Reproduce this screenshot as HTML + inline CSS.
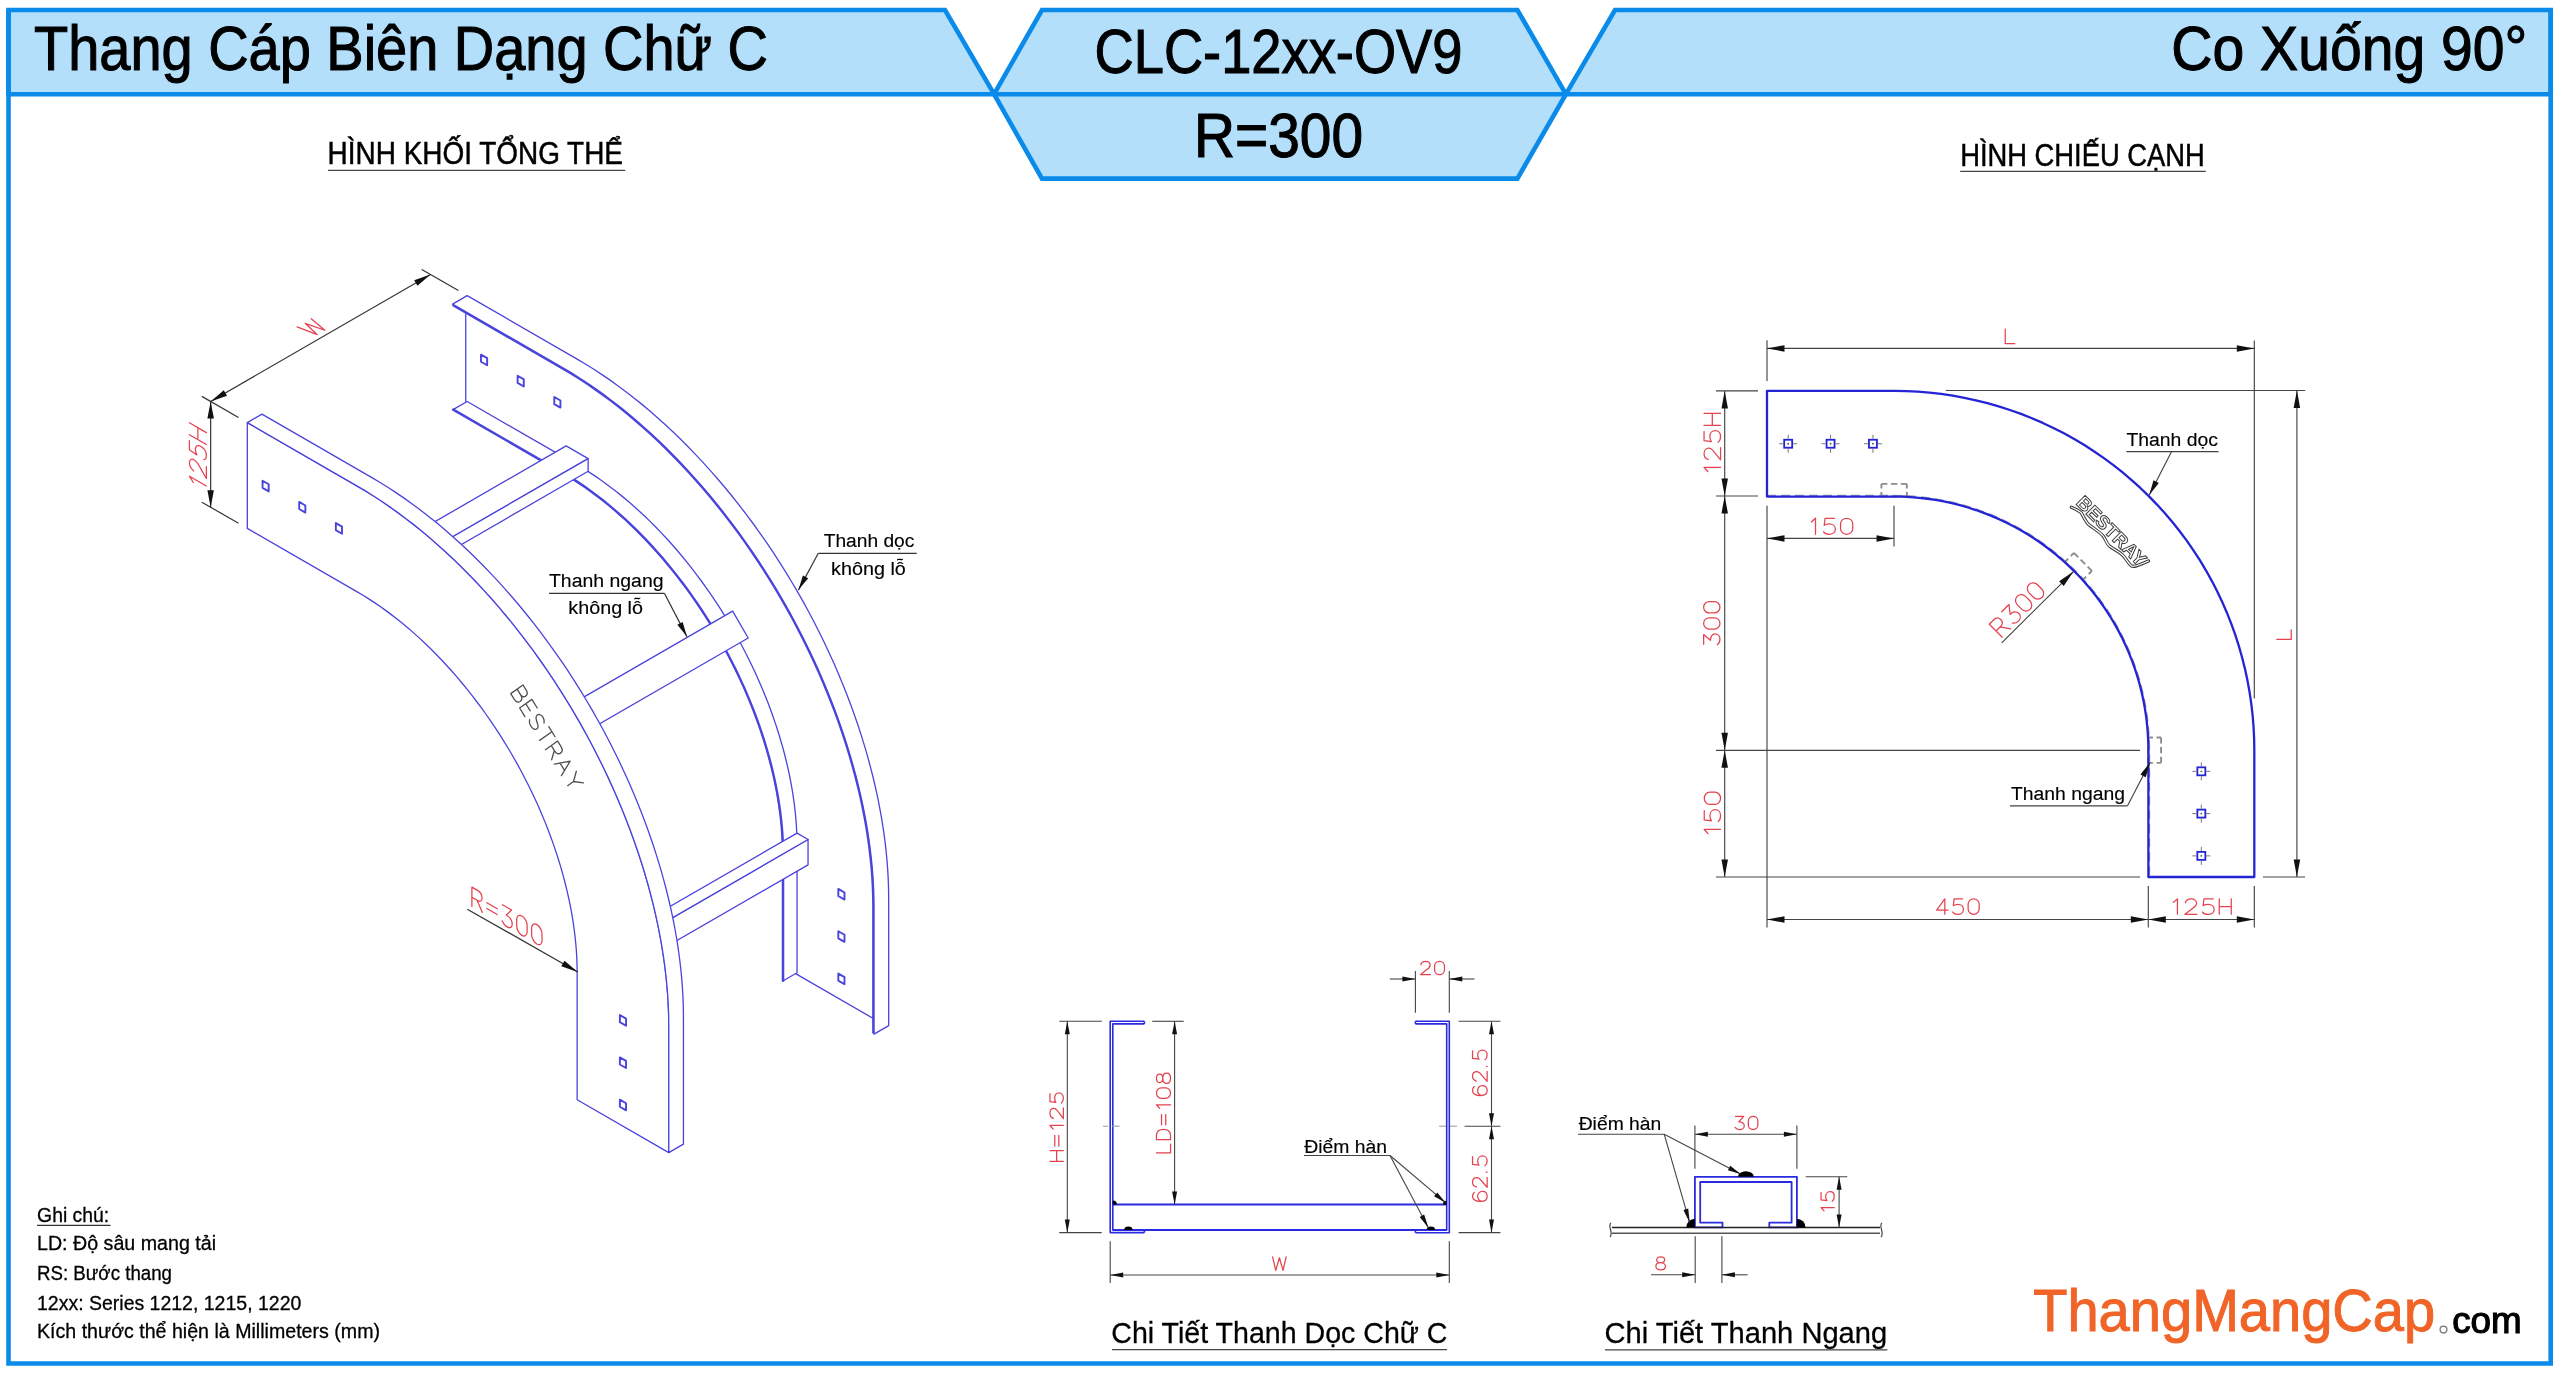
<!DOCTYPE html>
<html><head><meta charset="utf-8"><title>CLC-12xx-OV9</title>
<style>html,body{margin:0;padding:0;background:#fff;overflow:hidden}svg{display:block;will-change:transform}</style>
</head><body>
<svg width="2560" height="1373" viewBox="0 0 2560 1373">
<rect x="0" y="0" width="2560" height="1373" fill="#fff"/>
<polygon points="8.5,10 945,10 994.1,94.2 8.5,94.2" fill="#b3dffb" stroke="none" stroke-width="1.4" stroke-linejoin="round"/>
<polygon points="1042,10 1517.4,10 1565.9,94.2 1517.4,178.6 1042,178.6 994.1,94.2" fill="#b3dffb" stroke="none" stroke-width="1.4" stroke-linejoin="round"/>
<polygon points="1615,10 2550.7,10 2550.7,94.2 1565.9,94.2" fill="#b3dffb" stroke="none" stroke-width="1.4" stroke-linejoin="round"/>
<polyline points="8.5,10 8.5,1363.5 2550.7,1363.5 2550.7,10" stroke="#0a8ae9" stroke-width="4.6" fill="none" stroke-linejoin="miter" stroke-miterlimit="10"/>
<polygon points="8.5,10 945,10 994.1,94.2 8.5,94.2" stroke="#0a8ae9" stroke-width="4.6" fill="none" stroke-linejoin="miter" stroke-miterlimit="10"/>
<polygon points="1042,10 1517.4,10 1565.9,94.2 1517.4,178.6 1042,178.6 994.1,94.2" stroke="#0a8ae9" stroke-width="4.6" fill="none" stroke-linejoin="miter" stroke-miterlimit="10"/>
<polygon points="1615,10 2550.7,10 2550.7,94.2 1565.9,94.2" stroke="#0a8ae9" stroke-width="4.6" fill="none" stroke-linejoin="miter" stroke-miterlimit="10"/>
<line x1="994.1" y1="94.2" x2="1565.9" y2="94.2" stroke="#0a8ae9" stroke-width="4.6" fill="none" stroke-linejoin="miter" stroke-miterlimit="10"/>
<text x="34" y="70" font-size="62.5" font-family='"Liberation Sans", sans-serif' fill="#000" font-weight="normal" text-anchor="start" textLength="734" lengthAdjust="spacingAndGlyphs" stroke="#000" stroke-width="1.1">Thang Cáp Biên Dạng Chữ C</text>
<text x="1094.5" y="72.5" font-size="62.5" font-family='"Liberation Sans", sans-serif' fill="#000" font-weight="normal" text-anchor="start" textLength="368" lengthAdjust="spacingAndGlyphs" stroke="#000" stroke-width="1.1">CLC-12xx-OV9</text>
<text x="1194" y="157.4" font-size="62.5" font-family='"Liberation Sans", sans-serif' fill="#000" font-weight="normal" text-anchor="start" textLength="169" lengthAdjust="spacingAndGlyphs" stroke="#000" stroke-width="1.1">R=300</text>
<text x="2171.3" y="70.2" font-size="62.5" font-family='"Liberation Sans", sans-serif' fill="#000" font-weight="normal" text-anchor="start" textLength="356" lengthAdjust="spacingAndGlyphs" stroke="#000" stroke-width="1.1">Co Xuống 90°</text>
<text x="327.6" y="164.1" font-size="31.4" font-family='"Liberation Sans", sans-serif' fill="#000" font-weight="normal" text-anchor="start" textLength="295.4" lengthAdjust="spacingAndGlyphs" stroke="#000" stroke-width="0.5">HÌNH KHỐI TỔNG THỂ</text>
<line x1="328" y1="170.3" x2="625.2" y2="170.3" stroke="#444" stroke-width="1.3"/>
<text x="1960.2" y="165.7" font-size="31.4" font-family='"Liberation Sans", sans-serif' fill="#000" font-weight="normal" text-anchor="start" textLength="244.5" lengthAdjust="spacingAndGlyphs" stroke="#000" stroke-width="0.5">HÌNH CHIẾU CẠNH</text>
<line x1="1960.2" y1="171.4" x2="2205.8" y2="171.4" stroke="#444" stroke-width="1.3"/>
<text x="1111.3" y="1342.8" font-size="30.4" font-family='"Liberation Sans", sans-serif' fill="#000" font-weight="normal" text-anchor="start" textLength="336.2" lengthAdjust="spacingAndGlyphs" stroke="#000" stroke-width="0.3">Chi Tiết Thanh Dọc Chữ C</text>
<line x1="1112" y1="1349.6" x2="1447" y2="1349.6" stroke="#444" stroke-width="1.3"/>
<text x="1604.5" y="1342.7" font-size="30.4" font-family='"Liberation Sans", sans-serif' fill="#000" font-weight="normal" text-anchor="start" textLength="282.7" lengthAdjust="spacingAndGlyphs" stroke="#000" stroke-width="0.3">Chi Tiết Thanh Ngang</text>
<line x1="1605" y1="1349.8" x2="1887.4" y2="1349.8" stroke="#444" stroke-width="1.3"/>
<text x="37.1" y="1221.5" font-size="20.5" font-family='"Liberation Sans", sans-serif' fill="#000" font-weight="normal" text-anchor="start" textLength="72" lengthAdjust="spacingAndGlyphs" stroke="#000" stroke-width="0.3">Ghi chú:</text>
<line x1="37" y1="1225.3" x2="110.5" y2="1225.3" stroke="#333" stroke-width="1.3"/>
<text x="37" y="1250.1" font-size="20.5" font-family='"Liberation Sans", sans-serif' fill="#000" font-weight="normal" text-anchor="start" textLength="179" lengthAdjust="spacingAndGlyphs" stroke="#000" stroke-width="0.3">LD: Độ sâu mang tải</text>
<text x="37" y="1279.8" font-size="20.5" font-family='"Liberation Sans", sans-serif' fill="#000" font-weight="normal" text-anchor="start" textLength="135" lengthAdjust="spacingAndGlyphs" stroke="#000" stroke-width="0.3">RS: Bước thang</text>
<text x="37" y="1309.5" font-size="20.5" font-family='"Liberation Sans", sans-serif' fill="#000" font-weight="normal" text-anchor="start" textLength="264.3" lengthAdjust="spacingAndGlyphs" stroke="#000" stroke-width="0.3">12xx: Series 1212, 1215, 1220</text>
<text x="37" y="1338.4" font-size="20.5" font-family='"Liberation Sans", sans-serif' fill="#000" font-weight="normal" text-anchor="start" textLength="343" lengthAdjust="spacingAndGlyphs" stroke="#000" stroke-width="0.3">Kích thước thể hiện là Millimeters (mm)</text>
<text x="2033.2" y="1331" font-size="59" font-family='"Liberation Sans", sans-serif' fill="#f06428" font-weight="normal" text-anchor="start" textLength="402" lengthAdjust="spacingAndGlyphs" stroke="#f06428" stroke-width="1">ThangMangCap</text>
<circle cx="2443.5" cy="1329.6" r="3.4" fill="none" stroke="#777" stroke-width="1.3"/>
<text x="2452.2" y="1332.8" font-size="36" font-family='"Liberation Sans", sans-serif' fill="#000" font-weight="normal" text-anchor="start" textLength="69.5" lengthAdjust="spacingAndGlyphs" stroke="#000" stroke-width="1.15">com</text>
<polygon points="465.74,296.49 575.69,359.97 583.84,364.8 591.99,369.87 600.13,375.19 608.25,380.74 616.35,386.52 624.42,392.53 632.46,398.77 640.46,405.22 648.41,411.89 656.31,418.77 664.16,425.86 671.95,433.15 679.68,440.64 687.33,448.31 694.9,456.18 702.4,464.22 709.8,472.44 717.12,480.83 724.33,489.38 731.45,498.09 738.46,506.95 745.36,515.96 752.14,525.11 758.8,534.39 765.33,543.79 771.74,553.32 778.01,562.96 784.14,572.71 790.13,582.56 795.97,592.51 801.66,602.54 807.2,612.65 812.57,622.83 817.79,633.08 822.84,643.4 827.72,653.76 832.42,664.17 836.95,674.61 841.31,685.09 845.48,695.59 849.46,706.11 853.26,716.63 856.87,727.16 860.28,737.69 863.5,748.2 866.52,758.69 869.34,769.15 871.97,779.58 874.38,789.97 876.6,800.32 878.6,810.6 880.4,820.83 882,830.98 883.38,841.06 884.55,851.05 885.51,860.96 886.25,870.77 886.79,880.47 887.11,890.07 887.21,899.55 887.21,1026.51 795.59,973.61 795.59,846.65 795.51,839.96 795.29,833.18 794.91,826.33 794.38,819.41 793.71,812.42 792.88,805.36 791.9,798.25 790.78,791.08 789.51,783.86 788.09,776.6 786.53,769.3 784.82,761.97 782.97,754.6 780.98,747.22 778.85,739.81 776.58,732.39 774.17,724.96 771.62,717.53 768.94,710.1 766.13,702.68 763.18,695.26 760.11,687.87 756.91,680.5 753.59,673.15 750.15,665.83 746.58,658.56 742.9,651.32 739.1,644.13 735.2,636.99 731.18,629.91 727.06,622.89 722.83,615.94 718.5,609.06 714.07,602.25 709.55,595.53 704.94,588.89 700.24,582.34 695.45,575.88 690.58,569.52 685.64,563.27 680.61,557.12 675.52,551.08 670.36,545.16 665.13,539.36 659.84,533.68 654.49,528.13 649.09,522.71 643.64,517.43 638.14,512.28 632.6,507.28 627.02,502.42 621.41,497.71 615.76,493.15 610.09,488.75 604.39,484.51 598.67,480.43 592.94,476.51 587.19,472.76 581.44,469.18 575.69,465.77 465.74,402.29" fill="#fff" stroke="#4a44dc" stroke-width="1.3" stroke-linejoin="round"/>
<polygon points="467.2,295.64 577.15,359.12 585.31,363.95 593.46,369.03 601.59,374.34 609.72,379.89 617.81,385.67 625.89,391.69 633.92,397.92 641.92,404.38 649.88,411.05 657.78,417.93 665.63,425.02 673.42,432.31 681.14,439.79 688.79,447.47 696.37,455.33 703.86,463.38 711.27,471.59 718.58,479.98 725.8,488.53 732.92,497.24 739.92,506.1 746.82,515.11 753.6,524.26 760.26,533.54 766.8,542.95 773.2,552.47 779.47,562.12 785.6,571.87 791.59,581.72 797.43,591.66 803.13,601.69 808.66,611.8 814.04,621.99 819.25,632.24 824.3,642.55 829.18,652.91 833.89,663.32 838.42,673.77 842.77,684.24 846.94,694.74 850.93,705.26 854.72,715.79 858.33,726.32 861.75,736.84 864.96,747.35 867.99,757.84 870.81,768.31 873.43,778.74 875.85,789.13 878.06,799.47 880.07,809.76 881.87,819.98 883.46,830.13 884.84,840.21 886.01,850.21 886.97,860.11 887.72,869.92 888.25,879.63 888.57,889.22 888.68,898.7 888.68,1025.66 874.02,1034.12 874.02,907.16 873.91,897.69 873.59,888.09 873.06,878.39 872.31,868.58 871.35,858.67 870.18,848.68 868.8,838.6 867.21,828.44 865.41,818.22 863.4,807.93 861.19,797.59 858.77,787.2 856.15,776.77 853.33,766.31 850.3,755.81 847.09,745.3 843.67,734.78 840.06,724.25 836.27,713.72 832.28,703.21 828.11,692.71 823.76,682.23 819.23,671.78 814.52,661.38 809.64,651.01 804.59,640.7 799.38,630.45 794,620.27 788.47,610.15 782.77,600.12 776.93,590.18 770.94,580.33 764.81,570.58 758.54,560.94 752.14,551.41 745.6,542 738.94,532.72 732.16,523.58 725.26,514.57 718.26,505.71 711.14,497 703.92,488.45 696.61,480.06 689.2,471.84 681.71,463.8 674.13,455.93 666.48,448.26 658.76,440.77 650.97,433.48 643.12,426.39 635.22,419.51 627.26,412.84 619.26,406.38 611.23,400.15 603.15,394.14 595.06,388.36 586.93,382.8 578.8,377.49 570.65,372.42 562.49,367.58 452.54,304.1" fill="#fff" stroke="#4a44dc" stroke-width="1.3" stroke-linejoin="round"/>
<polyline points="452.54,305.12 562.49,368.6 570.62,373.42 578.75,378.48 586.86,383.78 594.96,389.31 603.04,395.08 611.09,401.07 619.1,407.29 627.08,413.73 635.01,420.38 642.89,427.24 650.72,434.31 658.49,441.58 666.19,449.04 673.82,456.7 681.37,464.54 688.84,472.56 696.23,480.76 703.52,489.12 710.72,497.65 717.82,506.33 724.8,515.17 731.68,524.15 738.44,533.27 745.09,542.53 751.6,551.91 757.99,561.41 764.24,571.02 770.36,580.74 776.33,590.57 782.15,600.48 787.83,610.49 793.35,620.57 798.71,630.72 803.91,640.95 808.94,651.23 813.81,661.56 818.5,671.94 823.02,682.36 827.36,692.8 831.52,703.28 835.49,713.76 839.28,724.26 842.88,734.76 846.28,745.25 849.49,755.73 852.51,766.2 855.32,776.63 857.93,787.03 860.35,797.39 862.55,807.71 864.56,817.96 866.35,828.16 867.94,838.28 869.31,848.33 870.48,858.3 871.44,868.18 872.18,877.96 872.71,887.64 873.03,897.2 873.14,906.66 873.14,1033.62" fill="none" stroke="#4a44dc" stroke-width="2" stroke-linejoin="round"/>
<polygon points="467.2,401.44 577.15,464.92 582.91,468.33 588.66,471.91 594.41,475.66 600.14,479.58 605.85,483.66 611.55,487.91 617.23,492.31 622.87,496.87 628.49,501.57 634.07,506.43 639.61,511.44 645.1,516.58 650.56,521.86 655.96,527.28 661.3,532.83 666.59,538.51 671.82,544.31 676.98,550.23 682.08,556.27 687.1,562.42 692.05,568.67 696.92,575.03 701.71,581.49 706.41,588.04 711.02,594.68 715.54,601.41 719.97,608.21 724.29,615.09 728.52,622.05 732.65,629.07 736.66,636.15 740.57,643.28 744.37,650.47 748.05,657.71 751.61,664.99 755.06,672.3 758.38,679.65 761.58,687.02 764.65,694.42 767.59,701.83 770.4,709.25 773.09,716.68 775.63,724.12 778.04,731.55 780.31,738.96 782.45,746.37 784.44,753.76 786.29,761.12 788,768.45 789.56,775.75 790.98,783.02 792.25,790.23 793.37,797.4 794.35,804.52 795.17,811.57 795.85,818.56 796.38,825.49 796.75,832.34 796.98,839.11 797.05,845.8 797.05,972.76 782.39,981.22 782.39,854.26 782.32,847.57 782.09,840.8 781.71,833.95 781.19,827.03 780.51,820.03 779.69,812.98 778.71,805.86 777.59,798.7 776.32,791.48 774.9,784.22 773.34,776.92 771.63,769.58 769.78,762.22 767.79,754.83 765.65,747.43 763.38,740.01 760.97,732.58 758.43,725.15 755.74,717.72 752.93,710.29 749.99,702.88 746.92,695.49 743.72,688.11 740.4,680.77 736.95,673.45 733.39,666.17 729.71,658.94 725.91,651.75 722,644.61 717.99,637.53 713.86,630.51 709.63,623.56 705.31,616.68 700.88,609.87 696.36,603.14 691.75,596.5 687.05,589.95 682.26,583.5 677.39,577.14 672.44,570.88 667.42,564.73 662.32,558.7 657.16,552.78 651.93,546.98 646.64,541.3 641.3,535.75 635.9,530.33 630.44,525.04 624.95,519.9 619.41,514.9 613.83,510.04 608.21,505.33 602.57,500.77 596.89,496.37 591.19,492.13 585.48,488.05 579.74,484.13 574,480.38 568.25,476.79 562.49,473.38 452.54,409.9" fill="#fff" stroke="#4a44dc" stroke-width="1.3" stroke-linejoin="round"/>
<polyline points="452.54,408.89 562.49,472.37 568.27,475.79 574.05,479.39 579.81,483.16 585.57,487.09 591.31,491.19 597.03,495.45 602.73,499.87 608.39,504.44 614.03,509.17 619.63,514.05 625.2,519.07 630.72,524.24 636.19,529.54 641.61,534.98 646.98,540.55 652.29,546.25 657.54,552.08 662.72,558.02 667.84,564.08 672.88,570.26 677.85,576.54 682.74,582.92 687.54,589.4 692.26,595.98 696.89,602.65 701.43,609.4 705.88,616.23 710.22,623.14 714.47,630.12 718.61,637.17 722.64,644.28 726.56,651.45 730.37,658.66 734.07,665.93 737.65,673.24 741.11,680.58 744.44,687.96 747.65,695.36 750.74,702.78 753.69,710.23 756.52,717.68 759.21,725.14 761.77,732.6 764.18,740.06 766.47,747.51 768.61,754.94 770.61,762.36 772.47,769.75 774.18,777.12 775.75,784.45 777.17,791.74 778.45,798.98 779.58,806.18 780.55,813.32 781.38,820.41 782.06,827.43 782.59,834.38 782.97,841.25 783.2,848.05 783.27,854.77 783.27,981.73" fill="none" stroke="#4a44dc" stroke-width="2" stroke-linejoin="round"/>
<polygon points="480.98,354.63 487.14,358.19 487.14,365.3 480.98,361.74" fill="none" stroke="#4a44dc" stroke-width="1.9" stroke-linejoin="round"/>
<polygon points="517.63,375.79 523.79,379.35 523.79,386.46 517.63,382.9" fill="none" stroke="#4a44dc" stroke-width="1.9" stroke-linejoin="round"/>
<polygon points="554.28,396.95 560.44,400.51 560.44,407.62 554.28,404.06" fill="none" stroke="#4a44dc" stroke-width="1.9" stroke-linejoin="round"/>
<polygon points="838.32,888.92 844.48,892.48 844.48,899.59 838.32,896.03" fill="none" stroke="#4a44dc" stroke-width="1.9" stroke-linejoin="round"/>
<polygon points="838.32,931.24 844.48,934.8 844.48,941.91 838.32,938.35" fill="none" stroke="#4a44dc" stroke-width="1.9" stroke-linejoin="round"/>
<polygon points="838.32,973.56 844.48,977.12 844.48,984.23 838.32,980.67" fill="none" stroke="#4a44dc" stroke-width="1.9" stroke-linejoin="round"/>
<polygon points="346.26,572.84 368.25,585.53 588.15,458.57 566.16,445.88" fill="#fff" stroke="#4a44dc" stroke-width="1.3" stroke-linejoin="round"/>
<polygon points="368.25,585.53 368.25,598.23 588.15,471.27 588.15,458.57" fill="#fff" stroke="#4a44dc" stroke-width="1.3" stroke-linejoin="round"/>
<polygon points="512.74,738.07 528.29,765 748.19,638.04 732.65,611.11" fill="#fff" stroke="#4a44dc" stroke-width="1.3" stroke-linejoin="round"/>
<polygon points="588.15,966.41 588.15,991.8 808.05,864.84 808.05,839.45" fill="#fff" stroke="#4a44dc" stroke-width="1.3" stroke-linejoin="round"/>
<polygon points="577.15,960.06 588.15,966.41 808.05,839.45 797.05,833.1" fill="#fff" stroke="#4a44dc" stroke-width="1.3" stroke-linejoin="round"/>
<polygon points="247.3,422.6 357.25,486.08 365.41,490.91 373.55,495.99 381.69,501.3 389.81,506.85 397.91,512.63 405.98,518.65 414.02,524.88 422.02,531.34 429.98,538.01 437.88,544.89 445.73,551.98 453.52,559.27 461.24,566.75 468.89,574.43 476.47,582.29 483.96,590.34 491.37,598.55 498.68,606.94 505.9,615.49 513.01,624.2 520.02,633.06 526.92,642.07 533.7,651.22 540.36,660.5 546.9,669.91 553.3,679.43 559.57,689.08 565.7,698.83 571.69,708.68 577.53,718.62 583.22,728.65 588.76,738.76 594.14,748.95 599.35,759.2 604.4,769.51 609.28,779.87 613.99,790.28 618.52,800.73 622.87,811.2 627.04,821.7 631.03,832.22 634.82,842.75 638.43,853.28 641.84,863.8 645.06,874.31 648.09,884.8 650.91,895.27 653.53,905.7 655.95,916.09 658.16,926.43 660.17,936.72 661.97,946.94 663.56,957.09 664.94,967.17 666.11,977.17 667.07,987.07 667.82,996.88 668.35,1006.59 668.67,1016.18 668.78,1025.66 668.78,1152.62 577.15,1099.72 577.15,972.76 577.08,966.07 576.85,959.3 576.47,952.45 575.95,945.52 575.27,938.53 574.44,931.48 573.47,924.36 572.35,917.19 571.08,909.98 569.66,902.71 568.1,895.41 566.39,888.08 564.54,880.72 562.55,873.33 560.41,865.92 558.14,858.51 555.73,851.08 553.18,843.64 550.5,836.21 547.69,828.79 544.75,821.38 541.68,813.98 538.48,806.61 535.15,799.26 531.71,791.95 528.15,784.67 524.46,777.43 520.67,770.24 516.76,763.11 512.74,756.03 508.62,749.01 504.39,742.05 500.06,735.17 495.64,728.37 491.12,721.64 486.51,715 481.8,708.45 477.02,701.99 472.15,695.63 467.2,689.38 462.18,683.23 457.08,677.19 451.92,671.27 446.69,665.47 441.4,659.79 436.06,654.24 430.66,648.82 425.2,643.54 419.71,638.4 414.17,633.39 408.59,628.53 402.97,623.83 397.32,619.27 391.65,614.87 385.95,610.62 380.24,606.54 374.5,602.62 368.76,598.87 363.01,595.29 357.25,591.88 247.3,528.4" fill="#fff" stroke="#4a44dc" stroke-width="1.3" stroke-linejoin="round"/>
<polygon points="262.55,480.75 268.7,484.3 268.7,491.41 262.55,487.86" fill="none" stroke="#4a44dc" stroke-width="1.9" stroke-linejoin="round"/>
<polygon points="299.2,501.91 305.35,505.46 305.35,512.57 299.2,509.02" fill="none" stroke="#4a44dc" stroke-width="1.9" stroke-linejoin="round"/>
<polygon points="335.85,523.07 342,526.62 342,533.73 335.85,530.18" fill="none" stroke="#4a44dc" stroke-width="1.9" stroke-linejoin="round"/>
<polygon points="619.89,1015.04 626.04,1018.59 626.04,1025.7 619.89,1022.15" fill="none" stroke="#4a44dc" stroke-width="1.9" stroke-linejoin="round"/>
<polygon points="619.89,1057.36 626.04,1060.91 626.04,1068.02 619.89,1064.47" fill="none" stroke="#4a44dc" stroke-width="1.9" stroke-linejoin="round"/>
<polygon points="619.89,1099.68 626.04,1103.23 626.04,1110.34 619.89,1106.79" fill="none" stroke="#4a44dc" stroke-width="1.9" stroke-linejoin="round"/>
<polygon points="247.3,422.6 357.25,486.08 365.41,490.91 373.55,495.99 381.69,501.3 389.81,506.85 397.91,512.63 405.98,518.65 414.02,524.88 422.02,531.34 429.98,538.01 437.88,544.89 445.73,551.98 453.52,559.27 461.24,566.75 468.89,574.43 476.47,582.29 483.96,590.34 491.37,598.55 498.68,606.94 505.9,615.49 513.01,624.2 520.02,633.06 526.92,642.07 533.7,651.22 540.36,660.5 546.9,669.91 553.3,679.43 559.57,689.08 565.7,698.83 571.69,708.68 577.53,718.62 583.22,728.65 588.76,738.76 594.14,748.95 599.35,759.2 604.4,769.51 609.28,779.87 613.99,790.28 618.52,800.73 622.87,811.2 627.04,821.7 631.03,832.22 634.82,842.75 638.43,853.28 641.84,863.8 645.06,874.31 648.09,884.8 650.91,895.27 653.53,905.7 655.95,916.09 658.16,926.43 660.17,936.72 661.97,946.94 663.56,957.09 664.94,967.17 666.11,977.17 667.07,987.07 667.82,996.88 668.35,1006.59 668.67,1016.18 668.78,1025.66 668.78,1152.62 683.44,1144.16 683.44,1017.2 683.33,1007.72 683.01,998.12 682.48,988.42 681.73,978.61 680.77,968.7 679.6,958.71 678.22,948.63 676.63,938.48 674.83,928.25 672.82,917.97 670.61,907.62 668.19,897.23 665.57,886.8 662.75,876.34 659.72,865.85 656.5,855.33 653.09,844.81 649.48,834.28 645.69,823.76 641.7,813.24 637.53,802.74 633.18,792.26 628.65,781.82 623.94,771.41 619.06,761.04 614.01,750.73 608.8,740.48 603.42,730.3 597.88,720.19 592.19,710.16 586.35,700.21 580.36,690.36 574.23,680.61 567.96,670.97 561.56,661.44 555.02,652.04 548.36,642.76 541.58,633.61 534.68,624.6 527.67,615.74 520.56,607.03 513.34,598.48 506.03,590.09 498.62,581.87 491.13,573.83 483.55,565.96 475.9,558.29 468.18,550.8 460.39,543.51 452.54,536.42 444.64,529.54 436.68,522.87 428.68,516.42 420.64,510.18 412.57,504.17 404.47,498.39 396.35,492.84 388.21,487.52 380.07,482.45 371.91,477.62 261.96,414.14" fill="#fff" stroke="#4a44dc" stroke-width="1.3" stroke-linejoin="round"/>
<line x1="210.65" y1="401.44" x2="430.55" y2="274.48" stroke="#333" stroke-width="1.2"/>
<polygon points="210.65,401.44 223.75,390.13 227,395.75" fill="#111"/>
<polygon points="430.55,274.48 417.45,285.79 414.2,280.17" fill="#111"/>
<line x1="201.85" y1="396.36" x2="238.5" y2="417.52" stroke="#333" stroke-width="1.2"/>
<line x1="421.75" y1="269.4" x2="458.41" y2="290.56" stroke="#333" stroke-width="1.2"/>
<line x1="210.65" y1="401.44" x2="210.65" y2="507.24" stroke="#333" stroke-width="1.2"/>
<polygon points="210.65,401.44 213.9,418.44 207.4,418.44" fill="#111"/>
<polygon points="210.65,507.24 207.4,490.24 213.9,490.24" fill="#111"/>
<line x1="201.85" y1="502.16" x2="238.5" y2="523.32" stroke="#333" stroke-width="1.2"/>
<line x1="467.3" y1="909.2" x2="577.7" y2="971.9" stroke="#333" stroke-width="1.2"/>
<polygon points="577.7,971.9 561.31,966.33 564.52,960.68" fill="#111"/>
<line x1="818.3" y1="553.3" x2="916.7" y2="553.3" stroke="#333" stroke-width="1.2"/>
<line x1="818.3" y1="553.3" x2="798.4" y2="590.1" stroke="#333" stroke-width="1.2"/>
<polygon points="798.4,590.1 802.9,575.48 808.17,578.33" fill="#111"/>
<line x1="549" y1="593.3" x2="664.4" y2="593.3" stroke="#333" stroke-width="1.2"/>
<line x1="664.4" y1="593.3" x2="686.9" y2="636.6" stroke="#333" stroke-width="1.2"/>
<polygon points="686.9,636.6 677.32,624.67 682.65,621.91" fill="#111"/>
<text x="823.7" y="546.9" font-size="19.2" font-family='"Liberation Sans", sans-serif' fill="#000" font-weight="normal" text-anchor="start" textLength="90.7" lengthAdjust="spacingAndGlyphs" stroke="#000" stroke-width="0.15">Thanh dọc</text>
<text x="831" y="574.7" font-size="19.2" font-family='"Liberation Sans", sans-serif' fill="#000" font-weight="normal" text-anchor="start" textLength="74.8" lengthAdjust="spacingAndGlyphs" stroke="#000" stroke-width="0.15">không lỗ</text>
<text x="549" y="587" font-size="19.2" font-family='"Liberation Sans", sans-serif' fill="#000" font-weight="normal" text-anchor="start" textLength="114.5" lengthAdjust="spacingAndGlyphs" stroke="#000" stroke-width="0.15">Thanh ngang</text>
<text x="568.3" y="614.2" font-size="19.2" font-family='"Liberation Sans", sans-serif' fill="#000" font-weight="normal" text-anchor="start" textLength="74.7" lengthAdjust="spacingAndGlyphs" stroke="#000" stroke-width="0.15">không lỗ</text>
<g transform="matrix(1.41158,-0.81500,1.68870,0.97500,297.10,326.80)" fill="none" stroke="#e4424f" stroke-width="1.250" stroke-linecap="round" stroke-linejoin="round"><path transform="translate(0.000,0)" d="M0,0 L2.3,10 L5,0.6 L7.7,10 L10,0" vector-effect="non-scaling-stroke"/></g>
<g transform="matrix(0.00000,-1.70000,1.69736,0.98000,189.40,482.30)" fill="none" stroke="#e4424f" stroke-width="1.250" stroke-linecap="round" stroke-linejoin="round"><path transform="translate(0.000,0)" d="M1.2,2.3 L3.6,0 L3.6,10" vector-effect="non-scaling-stroke"/><path transform="translate(8.000,0)" d="M0.2,2.6 C0.6,0.8 2,0 3.5,0 C5.5,0 6.8,1.3 6.8,2.9 C6.8,4.3 5.6,5.4 4.2,6.4 L0,10 L7,10" vector-effect="non-scaling-stroke"/><path transform="translate(18.000,0)" d="M6.5,0 L1.1,0 L0.6,4.4 C1.3,3.9 2.4,3.5 3.5,3.5 C5.5,3.5 7,4.9 7,6.8 C7,8.7 5.5,10 3.5,10 C2,10 0.8,9.4 0.2,8.5" vector-effect="non-scaling-stroke"/><path transform="translate(28.000,0)" d="M0,0 L0,10 M7,0 L7,10 M0,5 L7,5" vector-effect="non-scaling-stroke"/></g>
<g transform="matrix(1.49247,0.86170,0.00000,1.94000,471.90,887.10)" fill="none" stroke="#e4424f" stroke-width="1.250" stroke-linecap="round" stroke-linejoin="round"><path transform="translate(0.000,0)" d="M0,10 L0,0 L3.8,0 C5.6,0 6.8,1 6.8,2.6 C6.8,4.2 5.6,5.2 3.8,5.2 L0,5.2 M3.4,5.2 L7,10" vector-effect="non-scaling-stroke"/><path transform="translate(10.000,0)" d="M0,3.6 L7,3.6 M0,6.6 L7,6.6" vector-effect="non-scaling-stroke"/><path transform="translate(20.000,0)" d="M0.5,0 L6.6,0 L3,4.2 C5.4,4.1 7,5.4 7,7.1 C7,8.8 5.5,10 3.6,10 C2.2,10 0.9,9.4 0.2,8.4" vector-effect="non-scaling-stroke"/><path transform="translate(30.000,0)" d="M0,3.4 A3.5,3.4 0 0 1 7,3.4 L7,6.6 A3.5,3.4 0 0 1 0,6.6 Z" vector-effect="non-scaling-stroke"/><path transform="translate(40.000,0)" d="M0,3.4 A3.5,3.4 0 0 1 7,3.4 L7,6.6 A3.5,3.4 0 0 1 0,6.6 Z" vector-effect="non-scaling-stroke"/></g>
<g transform="matrix(0.88918,1.43786,-1.22618,0.86455,523.00,685.00)" fill="none" stroke="#505050" stroke-width="1.300" stroke-linecap="round" stroke-linejoin="round"><path transform="translate(0.000,0)" d="M0,0 L0,10 L4,10 C5.8,10 7,9 7,7.4 C7,5.8 5.8,4.8 4,4.8 L0,4.8 M0,0 L3.6,0 C5.2,0 6.3,0.9 6.3,2.4 C6.3,3.9 5.2,4.8 3.6,4.8" vector-effect="non-scaling-stroke"/><path transform="translate(10.000,0)" d="M6,0 L0,0 L0,10 L6,10 M0,5 L5,5" vector-effect="non-scaling-stroke"/><path transform="translate(19.000,0)" d="M6.6,1.4 C6,0.5 4.9,0 3.5,0 C1.7,0 0.4,1 0.4,2.5 C0.4,6 7,4.2 7,7.4 C7,9 5.6,10 3.5,10 C2,10 0.8,9.4 0,8.4" vector-effect="non-scaling-stroke"/><path transform="translate(29.000,0)" d="M0,0 L7,0 M3.5,0 L3.5,10" vector-effect="non-scaling-stroke"/><path transform="translate(39.000,0)" d="M0,10 L0,0 L3.8,0 C5.6,0 6.8,1 6.8,2.6 C6.8,4.2 5.6,5.2 3.8,5.2 L0,5.2 M3.4,5.2 L7,10" vector-effect="non-scaling-stroke"/><path transform="translate(49.000,0)" d="M0,10 L4,0 L8,10 M1.5,6.4 L6.5,6.4" vector-effect="non-scaling-stroke"/><path transform="translate(60.000,0)" d="M0,0 L4,5.2 L8,0 M4,5.2 L4,10" vector-effect="non-scaling-stroke"/></g>
<polyline points="1767,495.39 1894.12,495.39 1902.48,495.53 1910.83,495.94 1919.16,496.62 1927.47,497.57 1935.73,498.79 1943.96,500.29 1952.13,502.05 1960.24,504.07 1968.27,506.36 1976.23,508.91 1984.1,511.72 1991.88,514.79 1999.55,518.1 2007.1,521.67 2014.54,525.48 2021.84,529.53 2029.01,533.82 2036.04,538.33 2042.91,543.08 2049.62,548.05 2056.17,553.23 2062.55,558.62 2068.74,564.22 2074.75,570.02 2080.56,576.01 2086.17,582.19 2091.58,588.55 2096.78,595.08 2101.76,601.78 2106.51,608.63 2111.04,615.64 2115.34,622.79 2119.4,630.08 2123.22,637.5 2126.79,645.04 2130.12,652.69 2133.19,660.44 2136.01,668.29 2138.56,676.23 2140.86,684.25 2142.89,692.34 2144.65,700.49 2146.15,708.69 2147.38,716.94 2148.33,725.22 2149.01,733.53 2149.42,741.86 2149.56,750.19 2149.56,877" fill="none" stroke="#9a9aaa" stroke-width="1.2" stroke-linejoin="round" stroke-dasharray="9,5"/>
<rect x="1784.19" y="439.74" width="8" height="8" fill="none" stroke="#2424d4" stroke-width="1.8"/>
<line x1="1793.19" y1="443.74" x2="1797.19" y2="443.74" stroke="#777" stroke-width="1"/>
<line x1="1783.19" y1="443.74" x2="1779.19" y2="443.74" stroke="#777" stroke-width="1"/>
<line x1="1788.19" y1="448.74" x2="1788.19" y2="452.74" stroke="#777" stroke-width="1"/>
<line x1="1788.19" y1="438.74" x2="1788.19" y2="434.74" stroke="#777" stroke-width="1"/>
<circle cx="1788.19" cy="443.74" r="0.9" fill="#555"/>
<rect x="1826.56" y="439.74" width="8" height="8" fill="none" stroke="#2424d4" stroke-width="1.8"/>
<line x1="1835.56" y1="443.74" x2="1839.56" y2="443.74" stroke="#777" stroke-width="1"/>
<line x1="1825.56" y1="443.74" x2="1821.56" y2="443.74" stroke="#777" stroke-width="1"/>
<line x1="1830.56" y1="448.74" x2="1830.56" y2="452.74" stroke="#777" stroke-width="1"/>
<line x1="1830.56" y1="438.74" x2="1830.56" y2="434.74" stroke="#777" stroke-width="1"/>
<circle cx="1830.56" cy="443.74" r="0.9" fill="#555"/>
<rect x="1868.94" y="439.74" width="8" height="8" fill="none" stroke="#2424d4" stroke-width="1.8"/>
<line x1="1877.94" y1="443.74" x2="1881.94" y2="443.74" stroke="#777" stroke-width="1"/>
<line x1="1867.94" y1="443.74" x2="1863.94" y2="443.74" stroke="#777" stroke-width="1"/>
<line x1="1872.94" y1="448.74" x2="1872.94" y2="452.74" stroke="#777" stroke-width="1"/>
<line x1="1872.94" y1="438.74" x2="1872.94" y2="434.74" stroke="#777" stroke-width="1"/>
<circle cx="1872.94" cy="443.74" r="0.9" fill="#555"/>
<rect x="2197.34" y="767.33" width="8" height="8" fill="none" stroke="#2424d4" stroke-width="1.8"/>
<line x1="2206.34" y1="771.33" x2="2210.34" y2="771.33" stroke="#777" stroke-width="1"/>
<line x1="2196.34" y1="771.33" x2="2192.34" y2="771.33" stroke="#777" stroke-width="1"/>
<line x1="2201.34" y1="776.33" x2="2201.34" y2="780.33" stroke="#777" stroke-width="1"/>
<line x1="2201.34" y1="766.33" x2="2201.34" y2="762.33" stroke="#777" stroke-width="1"/>
<circle cx="2201.34" cy="771.33" r="0.9" fill="#555"/>
<rect x="2197.34" y="809.6" width="8" height="8" fill="none" stroke="#2424d4" stroke-width="1.8"/>
<line x1="2206.34" y1="813.6" x2="2210.34" y2="813.6" stroke="#777" stroke-width="1"/>
<line x1="2196.34" y1="813.6" x2="2192.34" y2="813.6" stroke="#777" stroke-width="1"/>
<line x1="2201.34" y1="818.6" x2="2201.34" y2="822.6" stroke="#777" stroke-width="1"/>
<line x1="2201.34" y1="808.6" x2="2201.34" y2="804.6" stroke="#777" stroke-width="1"/>
<circle cx="2201.34" cy="813.6" r="0.9" fill="#555"/>
<rect x="2197.34" y="851.87" width="8" height="8" fill="none" stroke="#2424d4" stroke-width="1.8"/>
<line x1="2206.34" y1="855.87" x2="2210.34" y2="855.87" stroke="#777" stroke-width="1"/>
<line x1="2196.34" y1="855.87" x2="2192.34" y2="855.87" stroke="#777" stroke-width="1"/>
<line x1="2201.34" y1="860.87" x2="2201.34" y2="864.87" stroke="#777" stroke-width="1"/>
<line x1="2201.34" y1="850.87" x2="2201.34" y2="846.87" stroke="#777" stroke-width="1"/>
<circle cx="2201.34" cy="855.87" r="0.9" fill="#555"/>
<line x1="1881.41" y1="496.57" x2="1881.41" y2="483.89" stroke="#8c8c8c" stroke-width="1.9" stroke-dasharray="4.5,3.68,4.5,40"/>
<line x1="1881.41" y1="483.89" x2="1906.84" y2="483.89" stroke="#8c8c8c" stroke-width="1.9" stroke-dasharray="6,3.5,6.43,3.5,6,40"/>
<line x1="1906.84" y1="483.89" x2="1906.84" y2="496.57" stroke="#8c8c8c" stroke-width="1.9" stroke-dasharray="4.5,3.68,4.5,40"/>
<line x1="1906.84" y1="496.57" x2="1881.41" y2="496.57" stroke="#8c8c8c" stroke-width="1.9" stroke-dasharray="6,3.5,6.43,3.5,6,40"/>
<line x1="2064.92" y1="561.89" x2="2073.91" y2="552.92" stroke="#8c8c8c" stroke-width="1.9" stroke-dasharray="4.5,3.7,4.5,40"/>
<line x1="2073.91" y1="552.92" x2="2091.89" y2="570.86" stroke="#8c8c8c" stroke-width="1.9" stroke-dasharray="6,3.5,6.39,3.5,6,40"/>
<line x1="2091.89" y1="570.86" x2="2082.9" y2="579.83" stroke="#8c8c8c" stroke-width="1.9" stroke-dasharray="4.5,3.7,4.5,40"/>
<line x1="2082.9" y1="579.83" x2="2064.92" y2="561.89" stroke="#8c8c8c" stroke-width="1.9" stroke-dasharray="6,3.5,6.39,3.5,6,40"/>
<line x1="2148.38" y1="737.51" x2="2161.09" y2="737.51" stroke="#8c8c8c" stroke-width="1.9" stroke-dasharray="4.5,3.71,4.5,40"/>
<line x1="2161.09" y1="737.51" x2="2161.09" y2="762.88" stroke="#8c8c8c" stroke-width="1.9" stroke-dasharray="6,3.5,6.36,3.5,6,40"/>
<line x1="2161.09" y1="762.88" x2="2148.38" y2="762.88" stroke="#8c8c8c" stroke-width="1.9" stroke-dasharray="4.5,3.71,4.5,40"/>
<line x1="2148.38" y1="762.88" x2="2148.38" y2="737.51" stroke="#8c8c8c" stroke-width="1.9" stroke-dasharray="6,3.5,6.36,3.5,6,40"/>
<polygon points="1767,390.9 1894.12,390.9 1905.91,391.09 1917.68,391.67 1929.43,392.63 1941.14,393.97 1952.8,395.7 1964.39,397.8 1975.92,400.29 1987.35,403.14 1998.68,406.37 2009.9,409.97 2021,413.93 2031.96,418.25 2042.78,422.93 2053.43,427.95 2063.92,433.33 2074.22,439.04 2084.33,445.08 2094.23,451.45 2103.93,458.14 2113.39,465.15 2122.63,472.46 2131.61,480.06 2140.35,487.96 2148.82,496.14 2157.01,504.58 2164.93,513.3 2172.55,522.26 2179.88,531.47 2186.9,540.91 2193.61,550.58 2200,560.46 2206.06,570.55 2211.78,580.82 2217.17,591.28 2222.21,601.91 2226.89,612.7 2231.23,623.63 2235.2,634.7 2238.8,645.9 2242.04,657.2 2244.9,668.61 2247.39,680.1 2249.5,691.67 2251.23,703.3 2252.58,714.98 2253.54,726.7 2254.12,738.44 2254.31,750.19 2254.31,877 2148.38,877 2148.38,750.19 2148.24,741.9 2147.83,733.61 2147.15,725.34 2146.2,717.09 2144.98,708.88 2143.49,700.72 2141.73,692.6 2139.71,684.55 2137.43,676.57 2134.88,668.67 2132.08,660.86 2129.02,653.14 2125.71,645.52 2122.15,638.02 2118.35,630.64 2114.31,623.38 2110.03,616.27 2105.53,609.29 2100.79,602.47 2095.84,595.8 2090.66,589.3 2085.28,582.97 2079.69,576.82 2073.91,570.86 2067.93,565.09 2061.76,559.51 2055.42,554.14 2048.9,548.98 2042.22,544.04 2035.38,539.32 2028.39,534.82 2021.25,530.55 2013.98,526.52 2006.58,522.73 1999.06,519.18 1991.42,515.88 1983.68,512.83 1975.85,510.03 1967.93,507.5 1959.93,505.22 1951.86,503.2 1943.73,501.45 1935.54,499.96 1927.31,498.74 1919.05,497.8 1910.75,497.12 1902.44,496.71 1894.12,496.57 1767,496.57" fill="none" stroke="#2424d4" stroke-width="2.3" stroke-linejoin="round"/>
<line x1="1767" y1="348.4" x2="2254.3" y2="348.4" stroke="#444" stroke-width="1.15"/>
<polygon points="1767,348.4 1784.5,345.15 1784.5,351.65" fill="#111"/>
<polygon points="2254.3,348.4 2236.8,351.65 2236.8,345.15" fill="#111"/>
<line x1="1767" y1="340.3" x2="1767" y2="381" stroke="#444" stroke-width="1.15"/>
<line x1="2254.3" y1="340.6" x2="2254.3" y2="698.5" stroke="#444" stroke-width="1.15"/>
<line x1="1945.9" y1="390.5" x2="2305.3" y2="390.5" stroke="#444" stroke-width="1.15"/>
<line x1="2263" y1="877" x2="2305" y2="877" stroke="#444" stroke-width="1.15"/>
<line x1="2296.9" y1="390.5" x2="2296.9" y2="877" stroke="#444" stroke-width="1.15"/>
<polygon points="2296.9,390.5 2300.15,408 2293.65,408" fill="#111"/>
<polygon points="2296.9,877 2293.65,859.5 2300.15,859.5" fill="#111"/>
<line x1="1716" y1="390.9" x2="1758" y2="390.9" stroke="#444" stroke-width="1.15"/>
<line x1="1716" y1="496" x2="1758" y2="496" stroke="#444" stroke-width="1.15"/>
<line x1="1724.7" y1="390.9" x2="1724.7" y2="496" stroke="#444" stroke-width="1.15"/>
<polygon points="1724.7,390.9 1727.95,408.4 1721.45,408.4" fill="#111"/>
<polygon points="1724.7,496 1721.45,478.5 1727.95,478.5" fill="#111"/>
<line x1="1724.7" y1="496" x2="1724.7" y2="750.3" stroke="#444" stroke-width="1.15"/>
<polygon points="1724.7,496 1727.95,513.5 1721.45,513.5" fill="#111"/>
<polygon points="1724.7,750.3 1721.45,732.8 1727.95,732.8" fill="#111"/>
<line x1="1724.7" y1="750.3" x2="1724.7" y2="877" stroke="#444" stroke-width="1.15"/>
<polygon points="1724.7,750.3 1727.95,767.8 1721.45,767.8" fill="#111"/>
<polygon points="1724.7,877 1721.45,859.5 1727.95,859.5" fill="#111"/>
<line x1="1716" y1="750.3" x2="2140" y2="750.3" stroke="#444" stroke-width="1.15"/>
<line x1="1716" y1="877" x2="2140" y2="877" stroke="#444" stroke-width="1.15"/>
<line x1="1767" y1="538.4" x2="1894" y2="538.4" stroke="#444" stroke-width="1.15"/>
<polygon points="1767,538.4 1784.5,535.15 1784.5,541.65" fill="#111"/>
<polygon points="1894,538.4 1876.5,541.65 1876.5,535.15" fill="#111"/>
<line x1="1767" y1="505.8" x2="1767" y2="927.5" stroke="#444" stroke-width="1.15"/>
<line x1="1894" y1="505.8" x2="1894" y2="546.6" stroke="#444" stroke-width="1.15"/>
<line x1="1767" y1="919.5" x2="2148.3" y2="919.5" stroke="#444" stroke-width="1.15"/>
<polygon points="1767,919.5 1784.5,916.25 1784.5,922.75" fill="#111"/>
<polygon points="2148.3,919.5 2130.8,922.75 2130.8,916.25" fill="#111"/>
<line x1="2148.3" y1="919.5" x2="2254.3" y2="919.5" stroke="#444" stroke-width="1.15"/>
<polygon points="2148.3,919.5 2165.8,916.25 2165.8,922.75" fill="#111"/>
<polygon points="2254.3,919.5 2236.8,922.75 2236.8,916.25" fill="#111"/>
<line x1="2148.3" y1="886" x2="2148.3" y2="927.5" stroke="#444" stroke-width="1.15"/>
<line x1="2254.3" y1="886" x2="2254.3" y2="927.5" stroke="#444" stroke-width="1.15"/>
<line x1="2001.7" y1="642.8" x2="2073.5" y2="571.6" stroke="#444" stroke-width="1.15"/>
<polygon points="2073.5,571.6 2063.72,585.88 2059.14,581.26" fill="#111"/>
<line x1="2126.4" y1="451.6" x2="2218.5" y2="451.6" stroke="#444" stroke-width="1.15"/>
<line x1="2171.6" y1="451.6" x2="2149.3" y2="495" stroke="#444" stroke-width="1.15"/>
<polygon points="2149.3,495 2153.49,480.29 2158.82,483.03" fill="#111"/>
<text x="2126.4" y="446" font-size="19.2" font-family='"Liberation Sans", sans-serif' fill="#000" font-weight="normal" text-anchor="start" textLength="91.6" lengthAdjust="spacingAndGlyphs" stroke="#000" stroke-width="0.15">Thanh dọc</text>
<line x1="2010" y1="805.8" x2="2127.5" y2="805.8" stroke="#444" stroke-width="1.15"/>
<line x1="2127.5" y1="805.8" x2="2150" y2="762.5" stroke="#444" stroke-width="1.15"/>
<polygon points="2150,762.5 2145.75,777.19 2140.42,774.43" fill="#111"/>
<text x="2011" y="800" font-size="19.2" font-family='"Liberation Sans", sans-serif' fill="#000" font-weight="normal" text-anchor="start" textLength="114" lengthAdjust="spacingAndGlyphs" stroke="#000" stroke-width="0.15">Thanh ngang</text>
<g transform="matrix(1.58333,0.00000,0.00000,1.45000,2005.25,329.15)" fill="none" stroke="#e4424f" stroke-width="1.250" stroke-linecap="round" stroke-linejoin="round"><path transform="translate(0.000,0)" d="M0,0 L0,10 L6,10" vector-effect="non-scaling-stroke"/></g>
<g transform="matrix(0.00000,-1.58333,1.45000,0.00000,2276.75,639.25)" fill="none" stroke="#e4424f" stroke-width="1.250" stroke-linecap="round" stroke-linejoin="round"><path transform="translate(0.000,0)" d="M0,0 L0,10 L6,10" vector-effect="non-scaling-stroke"/></g>
<g transform="matrix(0.00000,-1.72000,1.65000,0.00000,1704.05,473.55)" fill="none" stroke="#e4424f" stroke-width="1.250" stroke-linecap="round" stroke-linejoin="round"><path transform="translate(0.000,0)" d="M1.2,2.3 L3.6,0 L3.6,10" vector-effect="non-scaling-stroke"/><path transform="translate(8.000,0)" d="M0.2,2.6 C0.6,0.8 2,0 3.5,0 C5.5,0 6.8,1.3 6.8,2.9 C6.8,4.3 5.6,5.4 4.2,6.4 L0,10 L7,10" vector-effect="non-scaling-stroke"/><path transform="translate(18.000,0)" d="M6.5,0 L1.1,0 L0.6,4.4 C1.3,3.9 2.4,3.5 3.5,3.5 C5.5,3.5 7,4.9 7,6.8 C7,8.7 5.5,10 3.5,10 C2,10 0.8,9.4 0.2,8.5" vector-effect="non-scaling-stroke"/><path transform="translate(28.000,0)" d="M0,0 L0,10 M7,0 L7,10 M0,5 L7,5" vector-effect="non-scaling-stroke"/></g>
<g transform="matrix(0.00000,-1.61111,1.63000,0.00000,1703.65,645.15)" fill="none" stroke="#e4424f" stroke-width="1.250" stroke-linecap="round" stroke-linejoin="round"><path transform="translate(0.000,0)" d="M0.5,0 L6.6,0 L3,4.2 C5.4,4.1 7,5.4 7,7.1 C7,8.8 5.5,10 3.6,10 C2.2,10 0.9,9.4 0.2,8.4" vector-effect="non-scaling-stroke"/><path transform="translate(10.000,0)" d="M0,3.4 A3.5,3.4 0 0 1 7,3.4 L7,6.6 A3.5,3.4 0 0 1 0,6.6 Z" vector-effect="non-scaling-stroke"/><path transform="translate(20.000,0)" d="M0,3.4 A3.5,3.4 0 0 1 7,3.4 L7,6.6 A3.5,3.4 0 0 1 0,6.6 Z" vector-effect="non-scaling-stroke"/></g>
<g transform="matrix(0.00000,-1.74000,1.63000,0.00000,1704.25,835.75)" fill="none" stroke="#e4424f" stroke-width="1.250" stroke-linecap="round" stroke-linejoin="round"><path transform="translate(0.000,0)" d="M1.2,2.3 L3.6,0 L3.6,10" vector-effect="non-scaling-stroke"/><path transform="translate(8.000,0)" d="M6.5,0 L1.1,0 L0.6,4.4 C1.3,3.9 2.4,3.5 3.5,3.5 C5.5,3.5 7,4.9 7,6.8 C7,8.7 5.5,10 3.5,10 C2,10 0.8,9.4 0.2,8.5" vector-effect="non-scaling-stroke"/><path transform="translate(18.000,0)" d="M0,3.4 A3.5,3.4 0 0 1 7,3.4 L7,6.6 A3.5,3.4 0 0 1 0,6.6 Z" vector-effect="non-scaling-stroke"/></g>
<g transform="matrix(1.74000,0.00000,0.00000,1.60000,1809.25,518.25)" fill="none" stroke="#e4424f" stroke-width="1.250" stroke-linecap="round" stroke-linejoin="round"><path transform="translate(0.000,0)" d="M1.2,2.3 L3.6,0 L3.6,10" vector-effect="non-scaling-stroke"/><path transform="translate(8.000,0)" d="M6.5,0 L1.1,0 L0.6,4.4 C1.3,3.9 2.4,3.5 3.5,3.5 C5.5,3.5 7,4.9 7,6.8 C7,8.7 5.5,10 3.5,10 C2,10 0.8,9.4 0.2,8.5" vector-effect="non-scaling-stroke"/><path transform="translate(18.000,0)" d="M0,3.4 A3.5,3.4 0 0 1 7,3.4 L7,6.6 A3.5,3.4 0 0 1 0,6.6 Z" vector-effect="non-scaling-stroke"/></g>
<g transform="matrix(1.57407,0.00000,0.00000,1.55000,1936.65,898.85)" fill="none" stroke="#e4424f" stroke-width="1.250" stroke-linecap="round" stroke-linejoin="round"><path transform="translate(0.000,0)" d="M5.2,10 L5.2,0 L0,7.2 L7.2,7.2" vector-effect="non-scaling-stroke"/><path transform="translate(10.000,0)" d="M6.5,0 L1.1,0 L0.6,4.4 C1.3,3.9 2.4,3.5 3.5,3.5 C5.5,3.5 7,4.9 7,6.8 C7,8.7 5.5,10 3.5,10 C2,10 0.8,9.4 0.2,8.5" vector-effect="non-scaling-stroke"/><path transform="translate(20.000,0)" d="M0,3.4 A3.5,3.4 0 0 1 7,3.4 L7,6.6 A3.5,3.4 0 0 1 0,6.6 Z" vector-effect="non-scaling-stroke"/></g>
<g transform="matrix(1.71429,0.00000,0.00000,1.55000,2171.25,898.85)" fill="none" stroke="#e4424f" stroke-width="1.250" stroke-linecap="round" stroke-linejoin="round"><path transform="translate(0.000,0)" d="M1.2,2.3 L3.6,0 L3.6,10" vector-effect="non-scaling-stroke"/><path transform="translate(8.000,0)" d="M0.2,2.6 C0.6,0.8 2,0 3.5,0 C5.5,0 6.8,1.3 6.8,2.9 C6.8,4.3 5.6,5.4 4.2,6.4 L0,10 L7,10" vector-effect="non-scaling-stroke"/><path transform="translate(18.000,0)" d="M6.5,0 L1.1,0 L0.6,4.4 C1.3,3.9 2.4,3.5 3.5,3.5 C5.5,3.5 7,4.9 7,6.8 C7,8.7 5.5,10 3.5,10 C2,10 0.8,9.4 0.2,8.5" vector-effect="non-scaling-stroke"/><path transform="translate(28.000,0)" d="M0,0 L0,10 M7,0 L7,10 M0,5 L7,5" vector-effect="non-scaling-stroke"/></g>
<g transform="matrix(1.18487,-1.18487,1.30106,1.30106,1989.30,624.20)" fill="none" stroke="#e4424f" stroke-width="1.250" stroke-linecap="round" stroke-linejoin="round"><path transform="translate(0.000,0)" d="M0,10 L0,0 L3.8,0 C5.6,0 6.8,1 6.8,2.6 C6.8,4.2 5.6,5.2 3.8,5.2 L0,5.2 M3.4,5.2 L7,10" vector-effect="non-scaling-stroke"/><path transform="translate(10.000,0)" d="M0.5,0 L6.6,0 L3,4.2 C5.4,4.1 7,5.4 7,7.1 C7,8.8 5.5,10 3.6,10 C2.2,10 0.9,9.4 0.2,8.4" vector-effect="non-scaling-stroke"/><path transform="translate(20.000,0)" d="M0,3.4 A3.5,3.4 0 0 1 7,3.4 L7,6.6 A3.5,3.4 0 0 1 0,6.6 Z" vector-effect="non-scaling-stroke"/><path transform="translate(30.000,0)" d="M0,3.4 A3.5,3.4 0 0 1 7,3.4 L7,6.6 A3.5,3.4 0 0 1 0,6.6 Z" vector-effect="non-scaling-stroke"/></g>
<g transform="translate(2111.7,532) rotate(45)"><path d="M-46,11 C-42,9.5 -38,8 -35,8 C-31,9 -26,11 -22,11 C-16,10.5 -10,8.5 -4,8.8 C1,9.2 3,11.5 8,11.5 C13,11.3 18,8.6 24,8.6 C30,8.6 33,10.5 38,10 C41,9.5 43,3 46.5,-5.5" fill="none" stroke="#3a3a3a" stroke-width="3.3" stroke-linecap="round"/><path d="M-46,11 C-42,9.5 -38,8 -35,8 C-31,9 -26,11 -22,11 C-16,10.5 -10,8.5 -4,8.8 C1,9.2 3,11.5 8,11.5 C13,11.3 18,8.6 24,8.6 C30,8.6 33,10.5 38,10 C41,9.5 43,3 46.5,-5.5" fill="none" stroke="#fff" stroke-width="1.3" stroke-linecap="round"/><text x="-46" y="5.7" font-family='"Liberation Sans", sans-serif' font-size="18.5" font-weight="bold" textLength="90" lengthAdjust="spacingAndGlyphs" fill="#fff" stroke="#3a3a3a" stroke-width="0.95">BESTRAY</text></g>
<polyline points="1144.4,1021.3 1110.2,1021.3 1110.2,1232.6 1144.4,1232.6" fill="none" stroke="#2a2ae0" stroke-width="1.6" stroke-linejoin="round"/>
<polyline points="1144.4,1023.9 1112.8,1023.9 1112.8,1229.9 1144.4,1229.9" fill="none" stroke="#2a2ae0" stroke-width="1.6" stroke-linejoin="round"/>
<line x1="1144.4" y1="1021.3" x2="1144.4" y2="1023.9" stroke="#2a2ae0" stroke-width="1.6"/>
<line x1="1144.4" y1="1229.9" x2="1144.4" y2="1232.6" stroke="#2a2ae0" stroke-width="1.6"/>
<polyline points="1415.4,1021.3 1449.3,1021.3 1449.3,1232.7 1415.4,1232.7" fill="none" stroke="#2a2ae0" stroke-width="1.6" stroke-linejoin="round"/>
<polyline points="1415.4,1023.9 1446.7,1023.9 1446.7,1230.1 1415.4,1230.1" fill="none" stroke="#2a2ae0" stroke-width="1.6" stroke-linejoin="round"/>
<line x1="1415.4" y1="1021.3" x2="1415.4" y2="1023.9" stroke="#2a2ae0" stroke-width="1.6"/>
<line x1="1415.4" y1="1230.1" x2="1415.4" y2="1232.7" stroke="#2a2ae0" stroke-width="1.6"/>
<line x1="1112.8" y1="1204.6" x2="1446.7" y2="1204.6" stroke="#2a2ae0" stroke-width="2"/>
<line x1="1112.8" y1="1229.9" x2="1446.7" y2="1229.9" stroke="#2a2ae0" stroke-width="2"/>
<path d="M1112.8,1204.6 L1112.8,1200.5 A4.1,4.1 0 0 1 1116.9,1204.6 Z" fill="#000"/>
<path d="M1446.7,1204.6 L1446.7,1200.8 A3.8,3.8 0 0 0 1442.9,1204.6 Z" fill="#000"/>
<path d="M1124.3,1229.9 A4.1,3.3 0 0 1 1132.5,1229.9 Z" fill="#000"/>
<path d="M1426.8,1229.9 A4.1,3.3 0 0 1 1435,1229.9 Z" fill="#000"/>
<line x1="1103" y1="1126.2" x2="1108" y2="1126.2" stroke="#999" stroke-width="1"/>
<line x1="1112" y1="1126.2" x2="1119.6" y2="1126.2" stroke="#999" stroke-width="1"/>
<line x1="1439.2" y1="1126.2" x2="1446" y2="1126.2" stroke="#999" stroke-width="1"/>
<line x1="1450" y1="1126.2" x2="1457" y2="1126.2" stroke="#999" stroke-width="1"/>
<line x1="1059.3" y1="1021.3" x2="1101.7" y2="1021.3" stroke="#444" stroke-width="1.1"/>
<line x1="1059.3" y1="1232.6" x2="1101.7" y2="1232.6" stroke="#444" stroke-width="1.1"/>
<line x1="1067.3" y1="1021.3" x2="1067.3" y2="1232.6" stroke="#444" stroke-width="1.1"/>
<polygon points="1067.3,1021.3 1069.8,1034.3 1064.8,1034.3" fill="#111"/>
<polygon points="1067.3,1232.6 1064.8,1219.6 1069.8,1219.6" fill="#111"/>
<line x1="1152.2" y1="1021.3" x2="1183.7" y2="1021.3" stroke="#444" stroke-width="1.1"/>
<line x1="1174.6" y1="1021.3" x2="1174.6" y2="1204.6" stroke="#444" stroke-width="1.1"/>
<polygon points="1174.6,1021.3 1177.1,1034.3 1172.1,1034.3" fill="#111"/>
<polygon points="1174.6,1204.6 1172.1,1191.6 1177.1,1191.6" fill="#111"/>
<line x1="1458.6" y1="1021.3" x2="1500.4" y2="1021.3" stroke="#444" stroke-width="1.1"/>
<line x1="1458.6" y1="1232.6" x2="1500.4" y2="1232.6" stroke="#444" stroke-width="1.1"/>
<line x1="1464.6" y1="1126.2" x2="1500.4" y2="1126.2" stroke="#444" stroke-width="1.1"/>
<line x1="1491.5" y1="1021.3" x2="1491.5" y2="1126.2" stroke="#444" stroke-width="1.1"/>
<polygon points="1491.5,1021.3 1494,1034.3 1489,1034.3" fill="#111"/>
<polygon points="1491.5,1126.2 1489,1113.2 1494,1113.2" fill="#111"/>
<line x1="1491.5" y1="1126.2" x2="1491.5" y2="1232.6" stroke="#444" stroke-width="1.1"/>
<polygon points="1491.5,1126.2 1494,1139.2 1489,1139.2" fill="#111"/>
<polygon points="1491.5,1232.6 1489,1219.6 1494,1219.6" fill="#111"/>
<line x1="1415.4" y1="970.9" x2="1415.4" y2="1012.7" stroke="#444" stroke-width="1.1"/>
<line x1="1449.3" y1="970.9" x2="1449.3" y2="1012.7" stroke="#444" stroke-width="1.1"/>
<line x1="1389.9" y1="979" x2="1415.4" y2="979" stroke="#444" stroke-width="1.1"/>
<polygon points="1415.4,979 1402.4,981.5 1402.4,976.5" fill="#111"/>
<line x1="1449.3" y1="979" x2="1474.4" y2="979" stroke="#444" stroke-width="1.1"/>
<polygon points="1449.3,979 1462.3,976.5 1462.3,981.5" fill="#111"/>
<line x1="1110.2" y1="1241.2" x2="1110.2" y2="1283" stroke="#444" stroke-width="1.1"/>
<line x1="1449.3" y1="1241.2" x2="1449.3" y2="1283" stroke="#444" stroke-width="1.1"/>
<line x1="1110.2" y1="1275" x2="1449.3" y2="1275" stroke="#444" stroke-width="1.1"/>
<polygon points="1110.2,1275 1123.2,1272.5 1123.2,1277.5" fill="#111"/>
<polygon points="1449.3,1275 1436.3,1277.5 1436.3,1272.5" fill="#111"/>
<line x1="1304" y1="1155.5" x2="1390" y2="1155.5" stroke="#444" stroke-width="1.1"/>
<line x1="1390" y1="1155.5" x2="1445.6" y2="1202.7" stroke="#444" stroke-width="1.1"/>
<polygon points="1445.6,1202.7 1434.07,1196.19 1437.31,1192.38" fill="#111"/>
<line x1="1390" y1="1155.5" x2="1428.5" y2="1228.1" stroke="#444" stroke-width="1.1"/>
<polygon points="1428.5,1228.1 1419.73,1216.9 1424.15,1214.56" fill="#111"/>
<text x="1304.2" y="1152.5" font-size="19.2" font-family='"Liberation Sans", sans-serif' fill="#000" font-weight="normal" text-anchor="start" textLength="82.8" lengthAdjust="spacingAndGlyphs" stroke="#000" stroke-width="0.15">Điểm hàn</text>
<g transform="matrix(0.00000,-1.52222,1.34000,0.00000,1049.95,1161.25)" fill="none" stroke="#e4424f" stroke-width="1.250" stroke-linecap="round" stroke-linejoin="round"><path transform="translate(0.000,0)" d="M0,0 L0,10 M7,0 L7,10 M0,5 L7,5" vector-effect="non-scaling-stroke"/><path transform="translate(10.000,0)" d="M0,3.6 L7,3.6 M0,6.6 L7,6.6" vector-effect="non-scaling-stroke"/><path transform="translate(20.000,0)" d="M1.2,2.3 L3.6,0 L3.6,10" vector-effect="non-scaling-stroke"/><path transform="translate(28.000,0)" d="M0.2,2.6 C0.6,0.8 2,0 3.5,0 C5.5,0 6.8,1.3 6.8,2.9 C6.8,4.3 5.6,5.4 4.2,6.4 L0,10 L7,10" vector-effect="non-scaling-stroke"/><path transform="translate(38.000,0)" d="M6.5,0 L1.1,0 L0.6,4.4 C1.3,3.9 2.4,3.5 3.5,3.5 C5.5,3.5 7,4.9 7,6.8 C7,8.7 5.5,10 3.5,10 C2,10 0.8,9.4 0.2,8.5" vector-effect="non-scaling-stroke"/></g>
<g transform="matrix(0.00000,-1.47778,1.41000,0.00000,1156.45,1152.95)" fill="none" stroke="#e4424f" stroke-width="1.250" stroke-linecap="round" stroke-linejoin="round"><path transform="translate(0.000,0)" d="M0,0 L0,10 L6,10" vector-effect="non-scaling-stroke"/><path transform="translate(9.000,0)" d="M0,0 L2.6,0 C5.4,0 7,2 7,5 C7,8 5.4,10 2.6,10 L0,10 Z" vector-effect="non-scaling-stroke"/><path transform="translate(19.000,0)" d="M0,3.6 L7,3.6 M0,6.6 L7,6.6" vector-effect="non-scaling-stroke"/><path transform="translate(29.000,0)" d="M1.2,2.3 L3.6,0 L3.6,10" vector-effect="non-scaling-stroke"/><path transform="translate(37.000,0)" d="M0,3.4 A3.5,3.4 0 0 1 7,3.4 L7,6.6 A3.5,3.4 0 0 1 0,6.6 Z" vector-effect="non-scaling-stroke"/><path transform="translate(47.000,0)" d="M3.5,4.5 C1.8,4.5 0.6,3.6 0.6,2.25 C0.6,0.9 1.8,0 3.5,0 C5.2,0 6.4,0.9 6.4,2.25 C6.4,3.6 5.2,4.5 3.5,4.5 C1.5,4.5 0,5.6 0,7.25 C0,8.9 1.5,10 3.5,10 C5.5,10 7,8.9 7,7.25 C7,5.6 5.5,4.5 3.5,4.5 Z" vector-effect="non-scaling-stroke"/></g>
<g transform="matrix(0.00000,-1.42188,1.46000,0.00000,1472.55,1095.55)" fill="none" stroke="#e4424f" stroke-width="1.250" stroke-linecap="round" stroke-linejoin="round"><path transform="translate(0.000,0)" d="M6.3,1.2 C5.7,0.4 4.7,0 3.6,0 C1.3,0 0,2.2 0,5.6 C0,8.4 1.4,10 3.5,10 C5.6,10 7,8.6 7,6.7 C7,4.8 5.6,3.5 3.6,3.5 C1.9,3.5 0.5,4.5 0,6" vector-effect="non-scaling-stroke"/><path transform="translate(10.000,0)" d="M0.2,2.6 C0.6,0.8 2,0 3.5,0 C5.5,0 6.8,1.3 6.8,2.9 C6.8,4.3 5.6,5.4 4.2,6.4 L0,10 L7,10" vector-effect="non-scaling-stroke"/><path transform="translate(20.000,0)" d="M0.6,9.4 L0.6,10" vector-effect="non-scaling-stroke"/><path transform="translate(25.000,0)" d="M6.5,0 L1.1,0 L0.6,4.4 C1.3,3.9 2.4,3.5 3.5,3.5 C5.5,3.5 7,4.9 7,6.8 C7,8.7 5.5,10 3.5,10 C2,10 0.8,9.4 0.2,8.5" vector-effect="non-scaling-stroke"/></g>
<g transform="matrix(0.00000,-1.42188,1.46000,0.00000,1472.55,1201.45)" fill="none" stroke="#e4424f" stroke-width="1.250" stroke-linecap="round" stroke-linejoin="round"><path transform="translate(0.000,0)" d="M6.3,1.2 C5.7,0.4 4.7,0 3.6,0 C1.3,0 0,2.2 0,5.6 C0,8.4 1.4,10 3.5,10 C5.6,10 7,8.6 7,6.7 C7,4.8 5.6,3.5 3.6,3.5 C1.9,3.5 0.5,4.5 0,6" vector-effect="non-scaling-stroke"/><path transform="translate(10.000,0)" d="M0.2,2.6 C0.6,0.8 2,0 3.5,0 C5.5,0 6.8,1.3 6.8,2.9 C6.8,4.3 5.6,5.4 4.2,6.4 L0,10 L7,10" vector-effect="non-scaling-stroke"/><path transform="translate(20.000,0)" d="M0.6,9.4 L0.6,10" vector-effect="non-scaling-stroke"/><path transform="translate(25.000,0)" d="M6.5,0 L1.1,0 L0.6,4.4 C1.3,3.9 2.4,3.5 3.5,3.5 C5.5,3.5 7,4.9 7,6.8 C7,8.7 5.5,10 3.5,10 C2,10 0.8,9.4 0.2,8.5" vector-effect="non-scaling-stroke"/></g>
<g transform="matrix(1.40588,0.00000,0.00000,1.34000,1420.55,961.25)" fill="none" stroke="#e4424f" stroke-width="1.250" stroke-linecap="round" stroke-linejoin="round"><path transform="translate(0.000,0)" d="M0.2,2.6 C0.6,0.8 2,0 3.5,0 C5.5,0 6.8,1.3 6.8,2.9 C6.8,4.3 5.6,5.4 4.2,6.4 L0,10 L7,10" vector-effect="non-scaling-stroke"/><path transform="translate(10.000,0)" d="M0,3.4 A3.5,3.4 0 0 1 7,3.4 L7,6.6 A3.5,3.4 0 0 1 0,6.6 Z" vector-effect="non-scaling-stroke"/></g>
<g transform="matrix(1.35000,0.00000,0.00000,1.34000,1272.65,1256.95)" fill="none" stroke="#e4424f" stroke-width="1.250" stroke-linecap="round" stroke-linejoin="round"><path transform="translate(0.000,0)" d="M0,0 L2.3,10 L5,0.6 L7.7,10 L10,0" vector-effect="non-scaling-stroke"/></g>
<polygon points="1722.5,1227.4 1694.9,1227.4 1694.9,1176.8 1796.9,1176.8 1796.9,1227.4 1769.3,1227.4 1769.3,1222.7 1791.6,1222.7 1791.6,1182 1700.2,1182 1700.2,1222.7 1722.5,1222.7" fill="none" stroke="#2a2ae0" stroke-width="1.8" stroke-linejoin="round"/>
<line x1="1612" y1="1227.4" x2="1880" y2="1227.4" stroke="#222" stroke-width="1.5"/>
<line x1="1612" y1="1233.2" x2="1880" y2="1233.2" stroke="#555" stroke-width="1.5"/>
<path d="M1611,1223 C1607,1226 1614,1233 1610,1237" fill="none" stroke="#444" stroke-width="1.2"/>
<path d="M1882,1223 C1878,1226 1885,1233 1881,1237" fill="none" stroke="#444" stroke-width="1.2"/>
<path d="M1694.9,1227.4 L1686.3,1227.4 A8.6,8.6 0 0 1 1694.9,1218.8 Z" fill="#000"/>
<path d="M1796.9,1227.4 L1805.5,1227.4 A8.6,8.6 0 0 0 1796.9,1218.8 Z" fill="#000"/>
<path d="M1738,1176.8 A7.9,5.6 0 0 1 1753.8,1176.8 Z" fill="#000"/>
<line x1="1694.9" y1="1125.4" x2="1694.9" y2="1168.7" stroke="#444" stroke-width="1.1"/>
<line x1="1796.9" y1="1125.4" x2="1796.9" y2="1168.7" stroke="#444" stroke-width="1.1"/>
<line x1="1694.9" y1="1134.2" x2="1796.9" y2="1134.2" stroke="#444" stroke-width="1.1"/>
<polygon points="1694.9,1134.2 1707.9,1131.7 1707.9,1136.7" fill="#111"/>
<polygon points="1796.9,1134.2 1783.9,1136.7 1783.9,1131.7" fill="#111"/>
<line x1="1805.7" y1="1176.8" x2="1847.3" y2="1176.8" stroke="#444" stroke-width="1.1"/>
<line x1="1839.1" y1="1176.8" x2="1839.1" y2="1227.4" stroke="#444" stroke-width="1.1"/>
<polygon points="1839.1,1176.8 1841.6,1189.8 1836.6,1189.8" fill="#111"/>
<polygon points="1839.1,1227.4 1836.6,1214.4 1841.6,1214.4" fill="#111"/>
<line x1="1695.2" y1="1236.2" x2="1695.2" y2="1283" stroke="#444" stroke-width="1.1"/>
<line x1="1721.9" y1="1236.2" x2="1721.9" y2="1283" stroke="#444" stroke-width="1.1"/>
<line x1="1651" y1="1274.8" x2="1695.2" y2="1274.8" stroke="#444" stroke-width="1.1"/>
<polygon points="1695.2,1274.8 1682.2,1277.3 1682.2,1272.3" fill="#111"/>
<line x1="1721.9" y1="1274.8" x2="1747.7" y2="1274.8" stroke="#444" stroke-width="1.1"/>
<polygon points="1721.9,1274.8 1734.9,1272.3 1734.9,1277.3" fill="#111"/>
<line x1="1578" y1="1134.2" x2="1664.2" y2="1134.2" stroke="#444" stroke-width="1.1"/>
<line x1="1664.2" y1="1134.2" x2="1740.6" y2="1174.1" stroke="#444" stroke-width="1.1"/>
<polygon points="1740.6,1174.1 1727.92,1170.3 1730.23,1165.87" fill="#111"/>
<line x1="1664.2" y1="1134.2" x2="1689.7" y2="1222.7" stroke="#444" stroke-width="1.1"/>
<polygon points="1689.7,1222.7 1683.42,1209.94 1688.23,1208.56" fill="#111"/>
<text x="1578.7" y="1130.3" font-size="19.2" font-family='"Liberation Sans", sans-serif' fill="#000" font-weight="normal" text-anchor="start" textLength="82.6" lengthAdjust="spacingAndGlyphs" stroke="#000" stroke-width="0.15">Điểm hàn</text>
<g transform="matrix(1.35882,0.00000,0.00000,1.32000,1734.75,1116.35)" fill="none" stroke="#e4424f" stroke-width="1.250" stroke-linecap="round" stroke-linejoin="round"><path transform="translate(0.000,0)" d="M0.5,0 L6.6,0 L3,4.2 C5.4,4.1 7,5.4 7,7.1 C7,8.8 5.5,10 3.6,10 C2.2,10 0.9,9.4 0.2,8.4" vector-effect="non-scaling-stroke"/><path transform="translate(10.000,0)" d="M0,3.4 A3.5,3.4 0 0 1 7,3.4 L7,6.6 A3.5,3.4 0 0 1 0,6.6 Z" vector-effect="non-scaling-stroke"/></g>
<g transform="matrix(0.00000,-1.38667,1.32000,0.00000,1821.05,1212.55)" fill="none" stroke="#e4424f" stroke-width="1.250" stroke-linecap="round" stroke-linejoin="round"><path transform="translate(0.000,0)" d="M1.2,2.3 L3.6,0 L3.6,10" vector-effect="non-scaling-stroke"/><path transform="translate(8.000,0)" d="M6.5,0 L1.1,0 L0.6,4.4 C1.3,3.9 2.4,3.5 3.5,3.5 C5.5,3.5 7,4.9 7,6.8 C7,8.7 5.5,10 3.5,10 C2,10 0.8,9.4 0.2,8.5" vector-effect="non-scaling-stroke"/></g>
<g transform="matrix(1.37143,0.00000,0.00000,1.31000,1655.85,1256.85)" fill="none" stroke="#e4424f" stroke-width="1.250" stroke-linecap="round" stroke-linejoin="round"><path transform="translate(0.000,0)" d="M3.5,4.5 C1.8,4.5 0.6,3.6 0.6,2.25 C0.6,0.9 1.8,0 3.5,0 C5.2,0 6.4,0.9 6.4,2.25 C6.4,3.6 5.2,4.5 3.5,4.5 C1.5,4.5 0,5.6 0,7.25 C0,8.9 1.5,10 3.5,10 C5.5,10 7,8.9 7,7.25 C7,5.6 5.5,4.5 3.5,4.5 Z" vector-effect="non-scaling-stroke"/></g>
</svg>
</body></html>
